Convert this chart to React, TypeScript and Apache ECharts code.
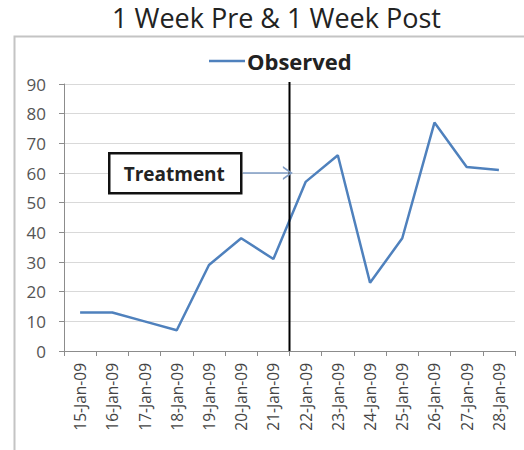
import React, { useEffect, useRef } from "react";
import * as echarts from "echarts";

const categories = [
  "15-Jan-09", "16-Jan-09", "17-Jan-09", "18-Jan-09", "19-Jan-09", "20-Jan-09", "21-Jan-09",
  "22-Jan-09", "23-Jan-09", "24-Jan-09", "25-Jan-09", "26-Jan-09", "27-Jan-09", "28-Jan-09",
];
const observed = [13, 13, 10, 7, 29, 38, 31, 57, 66, 23, 38, 77, 62, 61];
const treatmentIndex = 7; // boundary between 21-Jan and 22-Jan
const treatmentLevel = 60;
const arrowStart = 5.55;
const yMin = 0;
const yMax = 90;
const yInterval = 10;

export default function App() {
  const ref = useRef<HTMLDivElement>(null);
  useEffect(() => {
    document.body.style.margin = "0";
    const chart = echarts.init(ref.current!, null, { renderer: "svg" });
    const font = "'Open Sans', 'Liberation Sans', Arial, sans-serif";
    chart.setOption({
      animation: false,
      backgroundColor: "#ffffff",
      textStyle: { fontFamily: font },
      title: {
        text: "1 Week Pre & 1 Week Post",
        left: 112,
        top: 2,
        padding: 0,
        textStyle: { fontFamily: font, fontSize: 27, lineHeight: 30, fontWeight: "normal", color: "#222" },
      },
      legend: {
        data: ["Observed"],
        left: 204,
        top: 45,
        icon: "rect",
        itemWidth: 36,
        itemHeight: 2.5,
        itemGap: 4,
        textStyle: { fontFamily: font, fontSize: 22, fontWeight: "bold", color: "#222", padding: [0, 0, 0, -3] },
      },
      graphic: [
        {
          type: "rect",
          left: 12,
          top: 34,
          shape: { width: 530, height: 440 },
          style: { fill: "none", stroke: "#c4c4c4", lineWidth: 2 },
          z: -1,
        },
        {
          type: "group",
          left: 108,
          top: 152,
          z: 100,
          children: [
            {
              type: "rect",
              shape: { x: 0, y: 0, width: 132, height: 40 },
              style: { fill: "#fff", stroke: "#111", lineWidth: 2.5 },
              z: 100,
            },
            {
              type: "text",
              x: 65,
              y: 21,
              z: 101,
              style: {
                text: "Treatment",
                fontFamily: font,
                fontSize: 19,
                fontWeight: "bold",
                fill: "#222",
                align: "center",
                verticalAlign: "middle",
              },
            },
          ],
        },
      ],
      grid: { left: 64, top: 84, width: 451, height: 267 },
      xAxis: [
        {
          type: "category",
          data: categories,
          boundaryGap: true,
          axisLine: { lineStyle: { color: "#8c8c8c", width: 1 } },
          axisTick: { show: true, length: 5, lineStyle: { color: "#8c8c8c" } },
          axisLabel: { rotate: 90, fontFamily: font, fontSize: 15.5, color: "#444", margin: 12, interval: 0 },
        },
        { type: "value", min: 0, max: categories.length, show: false },
      ],
      yAxis: {
        type: "value",
        min: yMin,
        max: yMax,
        interval: yInterval,
        axisLine: { show: true, lineStyle: { color: "#8c8c8c" } },
        axisTick: { show: true, length: 5, lineStyle: { color: "#8c8c8c" } },
        axisLabel: { fontFamily: font, fontSize: 17, color: "#555", margin: 18 },
        splitLine: { lineStyle: { color: "#d9d9d9", width: 1 } },
      },
      series: [
        {
          name: "Observed",
          type: "line",
          data: observed,
          symbol: "none",
          lineStyle: { color: "#4F81BD", width: 2.5 },
          itemStyle: { color: "#4F81BD" },
        },
        {
          name: "Treatment",
          type: "line",
          xAxisIndex: 1,
          data: [[treatmentIndex, 0], [treatmentIndex, 90.7]],
          symbol: "none",
          clip: false,
          silent: true,
          lineStyle: { color: "#000", width: 2 },
          markLine: {
            silent: true,
            symbol: ["none", "path://M0,10 L5,0 L10,10 L8.5,10 L5,3 L1.5,10 Z"],
            symbolSize: [14, 10],
            label: { show: false },
            lineStyle: { color: "#7f9cc4", width: 1.5, type: "solid" },
            itemStyle: { color: "#7f9cc4" },
            data: [[{ coord: [arrowStart, treatmentLevel] }, { coord: [treatmentIndex - 0.05, treatmentLevel] }]],
          },
        },
      ],
    });
    return () => chart.dispose();
  }, []);
  return <div ref={ref} style={{ width: 524, height: 450 }} />;
}
